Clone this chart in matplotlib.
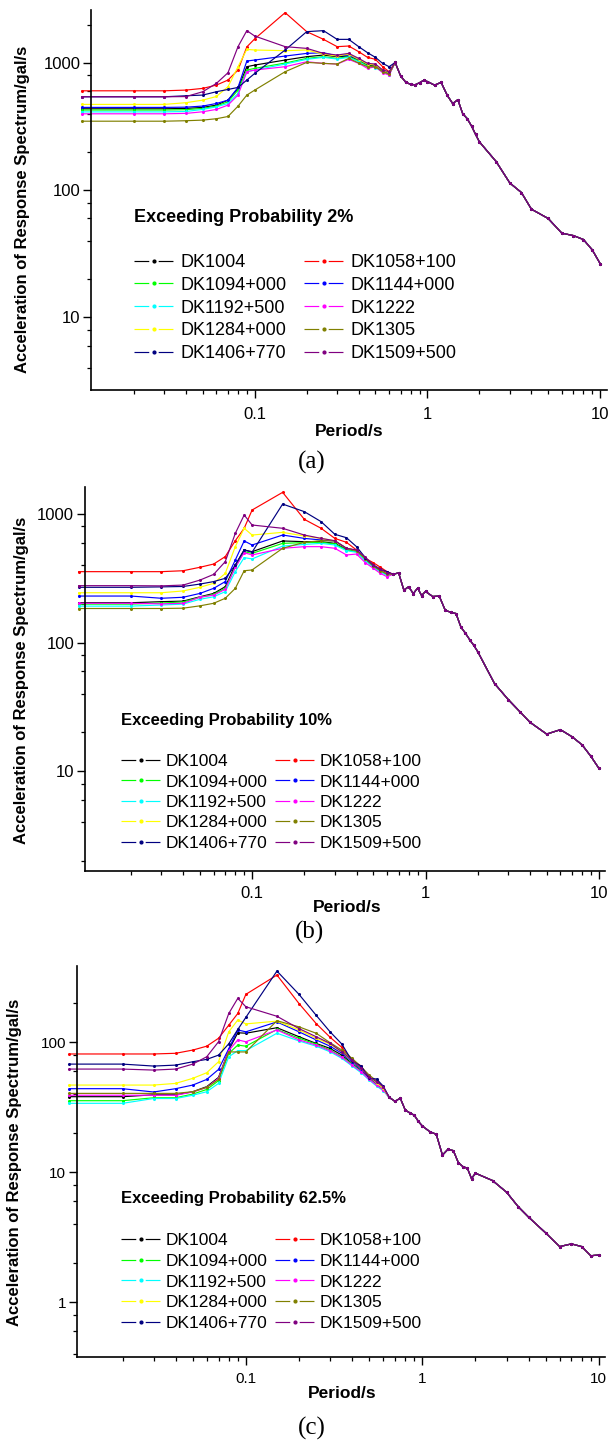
import numpy as np
import matplotlib
matplotlib.use('Agg')
import matplotlib.pyplot as plt
from matplotlib.lines import Line2D
from matplotlib.ticker import LogLocator, FuncFormatter, NullFormatter

plt.rcParams['font.family'] = ['Liberation Sans', 'DejaVu Sans']

## stations + Origin colours
stations = ['DK1004', 'DK1058+100', 'DK1094+000', 'DK1144+000', 'DK1192+500',
            'DK1222', 'DK1284+000', 'DK1305', 'DK1406+770', 'DK1509+500']
colors = ['#000000', '#FF0000', '#00FF00', '#0000FF', '#00FFFF',
          '#FF00FF', '#FFFF00', '#808000', '#000080', '#800080']

## periods (s): short part differs per station, long part is shared
head_T = [0.01, 0.02, 0.03, 0.04, 0.05, 0.06, 0.07, 0.08, 0.09, 0.10,
          0.15, 0.20, 0.25, 0.30, 0.35, 0.40, 0.45, 0.50, 0.55, 0.60]
tail_T = [0.65, 0.70, 0.75, 0.80, 0.85, 0.90, 0.95, 1.0, 1.1, 1.2, 1.3, 1.4,
          1.5, 1.6, 1.7, 1.8, 1.9, 2.0, 2.5, 3.0, 3.5, 4.0, 5.0, 6.0, 7.0, 8.0, 9.0, 10.0]

## (a) exceeding probability 2%
a_dk1004 = [437, 437, 437, 440, 448, 467, 511, 632, 936, 964, 1056, 1122, 1156, 1122, 1135, 1056, 964, 950, 870, 829]
a_dk1058 = [605, 605, 605, 613, 632, 671, 735, 881, 1340, 1550, 2490, 1765, 1536, 1345, 1361, 1228, 1108, 1069, 936, 855]
a_dk1094 = [427, 427, 427, 430, 440, 459, 496, 613, 881, 908, 1000, 1088, 1122, 1088, 1122, 1037, 950, 936, 860, 820]
a_dk1144 = [448, 448, 448, 450, 459, 481, 511, 643, 1037, 1056, 1135, 1191, 1206, 1135, 1156, 1069, 982, 964, 881, 839]
a_dk1192 = [413, 413, 413, 416, 432, 453, 481, 577, 855, 881, 982, 1069, 1108, 1075, 1108, 1024, 936, 922, 850, 810]
a_dk1222 = [399, 399, 399, 402, 414, 432, 467, 560, 855, 881, 936, 1024, 994, 982, 1069, 994, 908, 936, 839, 805]
a_dk1284 = [473, 473, 473, 488, 511, 546, 651, 936, 1281, 1266, 1251, 1266, 1177, 1135, 1177, 1069, 982, 964, 881, 839]
a_dk1305 = [349, 349, 349, 352, 356, 365, 380, 458, 560, 613, 855, 1012, 994, 982, 1088, 1000, 936, 936, 855, 820]
a_dk1406 = [543, 543, 543, 553, 560, 595, 620, 643, 735, 829, 1266, 1765, 1798, 1535, 1535, 1345, 1206, 1108, 994, 936]
a_dk1509 = [543, 543, 543, 545, 595, 692, 839, 1345, 1798, 1630, 1345, 1304, 1191, 1156, 1191, 1088, 994, 982, 881, 855]
a_tail = [1010, 790, 705, 680, 675, 700, 730, 715, 670, 705, 560, 480, 515, 400, 365, 320, 275,
          240, 168, 114, 96, 71, 60, 46, 44, 41, 34, 26.5]

## (b) exceeding probability 10%
b_dk1004 = [204, 204, 208, 210, 227, 241, 272, 401, 525, 509, 617, 609, 609, 591, 531, 515, 447, 394, 362, 341]
b_dk1058 = [356, 356, 356, 362, 385, 408, 466, 620, 774, 1074, 1474, 909, 774, 646, 602, 525, 452, 418, 385, 356]
b_dk1094 = [199, 199, 203, 207, 225, 237, 264, 385, 509, 494, 591, 599, 602, 585, 525, 509, 439, 389, 358, 337]
b_dk1144 = [230, 230, 221, 225, 241, 264, 298, 439, 617, 574, 686, 646, 628, 617, 541, 519, 452, 396, 367, 345]
b_dk1192 = [192, 192, 196, 199, 217, 227, 249, 356, 458, 447, 563, 580, 591, 574, 519, 503, 433, 385, 354, 333]
b_dk1222 = [202, 202, 200, 202, 225, 234, 259, 385, 500, 480, 541, 557, 557, 541, 480, 488, 418, 378, 345, 325]
b_dk1284 = [244, 244, 244, 252, 269, 289, 345, 557, 774, 686, 720, 674, 646, 617, 541, 519, 452, 401, 367, 345]
b_dk1305 = [184, 184, 184, 185, 193, 202, 221, 264, 362, 367, 541, 602, 620, 617, 541, 519, 447, 394, 362, 341]
b_dk1406 = [269, 269, 271, 273, 285, 298, 316, 400, 525, 505, 1195, 1043, 872, 695, 654, 557, 457, 401, 371, 356]
b_dk1509 = [277, 277, 276, 280, 306, 339, 426, 707, 982, 821, 774, 686, 646, 620, 541, 525, 460, 401, 371, 350]
b_tail = [340, 348, 256, 272, 240, 265, 232, 250, 228, 230, 178, 172, 168, 132, 118, 105, 95,
          85, 48, 36, 29, 24, 19.4, 21, 18.5, 16, 13, 10.5]

## (c) exceeding probability 62.5%
c_dk1004 = [38.0, 38.0, 39.3, 39.3, 41.5, 45.4, 53.5, 86.8, 118, 117, 129, 110, 97.7, 89.4, 79.4, 68.5, 60.2, 52.6, 47.6, 43.2]
c_dk1058 = [81, 81, 81, 82, 86.8, 93, 107, 135, 166, 233, 328, 198, 139, 109, 91, 72.7, 65.4, 52.6, 48.1, 44.0]
c_dk1094 = [35.4, 35.4, 37.3, 37.3, 39.8, 43.2, 50.4, 81.8, 94.8, 93, 125, 107, 96.5, 86.8, 77.1, 67.7, 59.8, 52.3, 47.3, 43.0]
c_dk1144 = [43.8, 43.8, 41.3, 43.8, 46.7, 51.6, 61.6, 89, 124, 120, 143, 120, 104, 93, 82, 70.6, 61.6, 53.5, 48.1, 44.0]
c_dk1192 = [33.8, 33.8, 36.8, 36.8, 39.0, 41.5, 48.1, 77.1, 86, 86, 117, 102, 93, 84.2, 74.9, 65.4, 58.1, 51.0, 45.9, 42.2]
c_dk1222 = [39, 39, 39, 39, 41.3, 44.8, 52.6, 86, 104, 100.6, 124, 104, 94.8, 85.8, 76.3, 66.5, 59.2, 51.6, 46.7, 42.8]
c_dk1284 = [46.7, 46.7, 46.7, 48.1, 52.6, 58.1, 70.6, 120, 148, 138, 145, 124, 107, 96.5, 84, 72, 62.8, 54, 48.7, 44]
c_dk1305 = [40.3, 40.3, 40.3, 40.3, 41.5, 44.8, 51.6, 84, 84, 84, 146, 131, 117, 99, 86.8, 74.9, 64.6, 55.7, 50.4, 45.4]
c_dk1406 = [67.7, 67.7, 65.4, 66.5, 70.6, 73.6, 79.4, 97, 125, 155, 352, 233, 161, 120, 96.5, 71.4, 65.4, 52.6, 52.0, 45.9]
c_dk1509 = [62, 62, 60.9, 62, 67.7, 77.1, 100.6, 166, 217, 187, 158, 127, 110, 97.7, 84.2, 72.7, 62.8, 54.1, 49.5, 45.4]
c_tail = [37.5, 35, 37, 30, 28.5, 27.4, 24.5, 22.6, 20.5, 19.5, 13.5, 15, 14.6, 11.8, 11, 10.7, 8.9,
          9.8, 8.6, 7.0, 5.4, 4.5, 3.4, 2.67, 2.8, 2.67, 2.27, 2.3]

W, H = 608, 1441
fig = plt.figure(figsize=(W / 100, H / 100), dpi=100)

def fx(px):
    return px / W

def fy(py):
    return 1 - py / H

# pixel layout of the three panels
panels = [
    dict(heads=[a_dk1004, a_dk1058, a_dk1094, a_dk1144, a_dk1192, a_dk1222, a_dk1284, a_dk1305, a_dk1406, a_dk1509],
         tail=a_tail, box=(91, 606.6, 10, 390), xlim=(0.01127, 10.9), ylim=(2.69, 2612),
         title='Exceeding Probability 2%', tpos=(133.7, 217), tsize=13, lsize=13, lpos=(133.7, 254),
         lspace=0.32, cspace=0.95, ylab=(23, 209), xlab=(349, 432), tag='(a)', tagpos=(312, 462),
         ticksize=12, xpad=7),
    dict(heads=[b_dk1004, b_dk1058, b_dk1094, b_dk1144, b_dk1192, b_dk1222, b_dk1284, b_dk1305, b_dk1406, b_dk1509],
         tail=b_tail, box=(84.5, 604.7, 487, 871), xlim=(0.0108, 10.8), ylim=(1.67, 1622),
         title='Exceeding Probability 10%', tpos=(121.3, 720), tsize=12, lsize=12.5, lpos=(121.3, 754),
         lspace=0.3, cspace=0.4, ylab=(21.3, 680), xlab=(347, 908), tag='(b)', tagpos=(310, 932),
         ticksize=12, xpad=5.5),
    dict(heads=[c_dk1004, c_dk1058, c_dk1094, c_dk1144, c_dk1192, c_dk1222, c_dk1284, c_dk1305, c_dk1406, c_dk1509],
         tail=c_tail, box=(76.7, 604.7, 966, 1357), xlim=(0.011, 10.8), ylim=(0.3775, 385),
         title='Exceeding Probability 62.5%', tpos=(121.3, 1198), tsize=12, lsize=12.5, lpos=(121.3, 1233),
         lspace=0.32, cspace=0.4, ylab=(14.3, 1162), xlab=(342, 1394), tag='(c)', tagpos=(312, 1428),
         ticksize=11, xpad=5.5),
]

T = head_T + tail_T
order = [0, 2, 4, 6, 8, 1, 3, 5, 7, 9]  # legend fills column-wise

for p in panels:
    l, r, t, b = p['box']
    ax = fig.add_axes([fx(l), fy(b), fx(r) - fx(l), (b - t) / H])
    for name, col, head in zip(stations, colors, p['heads']):
        ax.plot(T, head + p['tail'], color=col, lw=0.85, marker='o', ms=1.2,
                mec=col, mfc=col, clip_on=False, label=name)
    ax.set_xscale('log')
    ax.set_yscale('log')
    ax.set_xlim(*p['xlim'])
    ax.set_ylim(*p['ylim'])
    for s in ['top', 'right']:
        ax.spines[s].set_visible(False)
    for s in ['left', 'bottom']:
        ax.spines[s].set_linewidth(1.2)
    fmt = FuncFormatter(lambda v, _: '{:g}'.format(v))
    ax.xaxis.set_major_formatter(fmt)
    ax.yaxis.set_major_formatter(fmt)
    ax.xaxis.set_minor_locator(LogLocator(base=10, subs=np.arange(2, 10)))
    ax.yaxis.set_minor_locator(LogLocator(base=10, subs=(2, 4, 6, 8)))
    ax.xaxis.set_minor_formatter(NullFormatter())
    ax.yaxis.set_minor_formatter(NullFormatter())
    ax.tick_params(which='major', direction='out', length=5.5, width=1.0,
                   labelsize=p['ticksize'], pad=2)
    ax.tick_params(axis='x', which='major', pad=p['xpad'])
    ax.tick_params(which='minor', direction='out', length=3, width=0.9)

    # legend keys look like "- . -" in the original
    keys = [Line2D([], [], color=colors[i], lw=0.85, ls=(0, (12.5, 8)), marker='o', ms=2,
                   mec=colors[i], mfc=colors[i]) for i in order]
    ax.legend(keys, [stations[i] for i in order], ncol=2, numpoints=1,
              loc='upper left', bbox_to_anchor=(fx(p['lpos'][0]), fy(p['lpos'][1])),
              bbox_transform=fig.transFigure, frameon=False, borderpad=0,
              borderaxespad=0, fontsize=p['lsize'], handlelength=2.3,
              handletextpad=0.28, labelspacing=p['lspace'], columnspacing=p['cspace'])

    fig.text(fx(p['tpos'][0]), fy(p['tpos'][1]), p['title'], fontsize=p['tsize'],
             fontweight='bold', ha='left', va='center')
    fig.text(fx(p['ylab'][0]), fy(p['ylab'][1]), 'Acceleration of Response Spectrum/gal/s',
             rotation=90, fontsize=12, fontweight='bold', ha='center', va='center')
    fig.text(fx(p['xlab'][0]), fy(p['xlab'][1]), 'Period/s', fontsize=12.5,
             fontweight='bold', ha='center', va='center')
    fig.text(fx(p['tagpos'][0]), fy(p['tagpos'][1]), p['tag'], fontsize=18,
             family=['Liberation Serif', 'DejaVu Serif'], ha='center', va='center')

fig.savefig('out.png', dpi=100)
